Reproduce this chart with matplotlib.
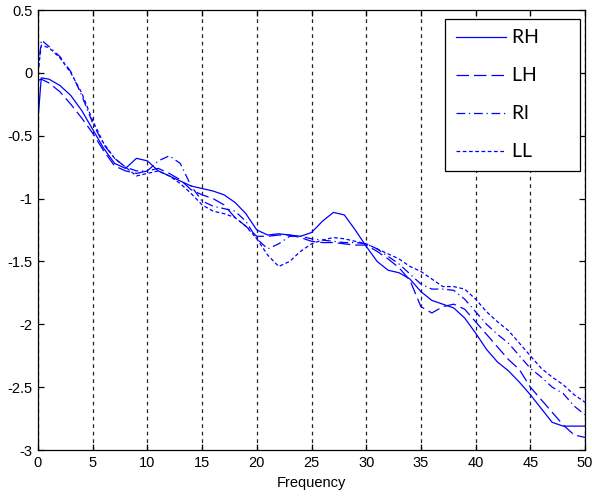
import matplotlib
matplotlib.use('Agg')
import matplotlib.pyplot as plt
import numpy as np

# frequency grid shared by all four curves
freq = [0, 0.3] + list(range(1, 51))

# values (approx.)
rh = [-0.37, -0.04, -0.05, -0.10, -0.18, -0.30, -0.45, -0.60, -0.72, -0.76, -0.68,
      -0.70, -0.78, -0.82, -0.86, -0.90, -0.92, -0.94, -0.97, -1.03, -1.12,
      -1.25, -1.29, -1.28, -1.29, -1.30, -1.27, -1.18, -1.11, -1.13, -1.25,
      -1.38, -1.50, -1.57, -1.59, -1.64, -1.74, -1.81, -1.84, -1.87, -1.95,
      -2.07, -2.20, -2.30, -2.37, -2.46, -2.56, -2.67, -2.78, -2.81, -2.81, -2.81]
lh = [-0.06, -0.05, -0.08, -0.15, -0.25, -0.36, -0.48, -0.62, -0.74, -0.78, -0.80,
      -0.78, -0.76, -0.80, -0.85, -0.93, -0.97, -1.00, -1.05, -1.15, -1.22,
      -1.30, -1.30, -1.29, -1.29, -1.31, -1.34, -1.35, -1.35, -1.36, -1.37,
      -1.37, -1.42, -1.48, -1.55, -1.65, -1.86, -1.91, -1.86, -1.84, -1.88,
      -1.98, -2.08, -2.18, -2.28, -2.36, -2.50, -2.60, -2.70, -2.80, -2.88, -2.90]
rl = [0.00, 0.26, 0.21, 0.13, 0.01, -0.18, -0.40, -0.57, -0.68, -0.75, -0.78,
      -0.78, -0.70, -0.66, -0.72, -0.90, -1.02, -1.06, -1.08, -1.10, -1.18,
      -1.32, -1.40, -1.36, -1.30, -1.30, -1.32, -1.33, -1.34, -1.35, -1.35,
      -1.36, -1.40, -1.46, -1.52, -1.60, -1.68, -1.72, -1.72, -1.73, -1.80,
      -1.90, -2.00, -2.08, -2.15, -2.25, -2.35, -2.42, -2.50, -2.55, -2.65, -2.72]
ll = [0.00, 0.22, 0.20, 0.12, 0.00, -0.16, -0.38, -0.56, -0.68, -0.75, -0.82,
      -0.80, -0.78, -0.82, -0.88, -0.96, -1.05, -1.10, -1.12, -1.15, -1.22,
      -1.32, -1.45, -1.54, -1.50, -1.42, -1.36, -1.33, -1.31, -1.32, -1.34,
      -1.36, -1.40, -1.44, -1.48, -1.54, -1.58, -1.64, -1.70, -1.70, -1.72,
      -1.80, -1.90, -1.98, -2.05, -2.15, -2.25, -2.35, -2.42, -2.48, -2.56, -2.62]

labels = ['RH', 'LH', 'Rl', 'LL']
styles = ['-', (0, (10, 4)), (0, (7, 3, 1, 3)), (0, (3, 2))]

plt.rcParams['font.family'] = ['Liberation Sans', 'DejaVu Sans']

fig = plt.figure(figsize=(5.92, 4.99), dpi=100)
ax = fig.add_axes([38/592, 1-450/499, 547/592, 440/499])

for y, lab, ls in zip([rh, lh, rl, ll], labels, styles):
    # trailing spaces give the wide matlab-style legend box
    ax.plot(freq, y, color='#0000ff', lw=0.9, ls=ls, label=lab + ' ' * 6)

ax.set_xlim(0, 50)
ax.set_ylim(-3, 0.5)
ax.set_xticks(np.arange(0, 51, 5))
ax.set_yticks(np.arange(-3, 0.51, 0.5))
ax.set_yticklabels(['-3', '-2.5', '-2', '-1.5', '-1', '-0.5', '0', '0.5'])
ax.xaxis.grid(True, color='#222222', ls=(0, (3, 3)), lw=0.9)
ax.tick_params(direction='in', top=True, right=True, length=4, width=0.9,
               labelsize=10.5, pad=4)
for s in ax.spines.values():
    s.set_linewidth(0.9)
ax.set_xlabel('Frequency', fontsize=10.5, labelpad=5)

leg = ax.legend(loc='upper right', bbox_to_anchor=(0.990, 0.980), borderaxespad=0,
                fancybox=False, edgecolor='black', framealpha=1,
                handlelength=2.6, handletextpad=0.3, labelspacing=1.08,
                borderpad=0.55,
                prop={'family': ['Lato', 'DejaVu Sans'], 'size': 14})
leg.get_frame().set_linewidth(0.9)

fig.savefig('out.png', dpi=100)
